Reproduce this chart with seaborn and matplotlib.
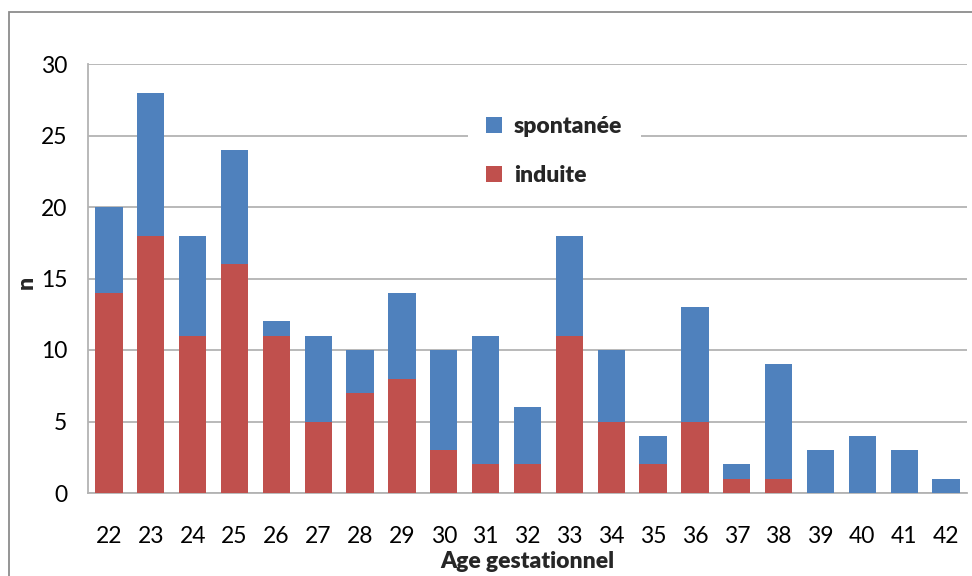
import matplotlib
matplotlib.use("Agg")
import matplotlib.pyplot as plt
from matplotlib.patches import Patch, Rectangle
import numpy as np
import pandas as pd
import seaborn as sns

# Gestational age (weeks) and counts per delivery type
ages = [22, 23, 24, 25, 26, 27, 28, 29, 30, 31, 32, 33, 34, 35, 36, 37, 38, 39, 40, 41, 42]
induite = [14, 18, 11, 16, 11, 5, 7, 8, 3, 2, 2, 11, 5, 2, 5, 1, 1, 0, 0, 0, 0]
spontanee = [6, 10, 7, 8, 1, 6, 3, 6, 7, 9, 4, 7, 5, 2, 8, 1, 8, 3, 4, 3, 1]
y_ticks = [0, 5, 10, 15, 20, 25, 30]

BLUE = "#4F81BD"
RED = "#C0504D"
GRID = "#B3B3B3"

sns.set_theme(style="white")
plt.rcParams["font.family"] = ["Lato", "DejaVu Sans"]

df = pd.DataFrame({
    "age": [str(a) for a in ages],
    "induite": induite,
    "spontanee": spontanee,
})
df["total"] = df["induite"] + df["spontanee"]

fig = plt.figure(figsize=(9.72, 5.76), dpi=100)
ax = fig.add_axes([88 / 972, 1 - 493 / 576, (967 - 88) / 972, (493 - 64) / 576])

# stacked bars: full height in blue, induced part drawn over it in red
sns.barplot(data=df, x="age", y="total", color=BLUE, saturation=1, width=0.65,
            linewidth=0, edgecolor="none", ax=ax, zorder=3)
sns.barplot(data=df, x="age", y="induite", color=RED, saturation=1, width=0.65,
            linewidth=0, edgecolor="none", ax=ax, zorder=4)

ax.set_ylim(0, 30)
ax.set_yticks(y_ticks)
ax.set_xlim(-0.5, len(ages) - 0.5)
ax.yaxis.grid(True, color=GRID, linewidth=1.3, zorder=0)
ax.set_axisbelow(True)
for side in ["top", "right"]:
    ax.spines[side].set_visible(False)
for side in ["left", "bottom"]:
    ax.spines[side].set_color(GRID)
    ax.spines[side].set_linewidth(1.3)
ax.tick_params(axis="both", length=0, labelsize=16.5, colors="black")
ax.tick_params(axis="x", pad=24)
ax.tick_params(axis="y", pad=15)

ax.set_xlabel("Age gestationnel", fontsize=16.5, fontweight="heavy", labelpad=3)
ax.set_ylabel("n", fontsize=16.5, fontweight="heavy")
ax.yaxis.set_label_coords(-0.058, 0.49)

handles = [Patch(facecolor=BLUE, edgecolor="none", label="spontanée"),
           Patch(facecolor=RED, edgecolor="none", label="induite")]
leg = ax.legend(handles=handles, loc="upper left",
                bbox_to_anchor=(468 / 972, 1 - 98 / 576),
                bbox_transform=fig.transFigure,
                frameon=True, fancybox=False, framealpha=1,
                prop={"size": 16.5, "weight": "heavy"},
                handlelength=0.7, handleheight=0.7, handletextpad=0.5,
                labelspacing=1.2, borderpad=0.8, borderaxespad=0)
leg.get_frame().set_edgecolor("none")
leg.get_frame().set_facecolor("white")
leg.set_zorder(10)

# outer chart frame
fig.patches.append(Rectangle((9 / 972, -0.1), 1.2, 1 - 12 / 576 + 0.1,
                             transform=fig.transFigure, fill=False,
                             edgecolor="#8C8C8C", linewidth=1.3))

fig.savefig("out.png", dpi=100)
